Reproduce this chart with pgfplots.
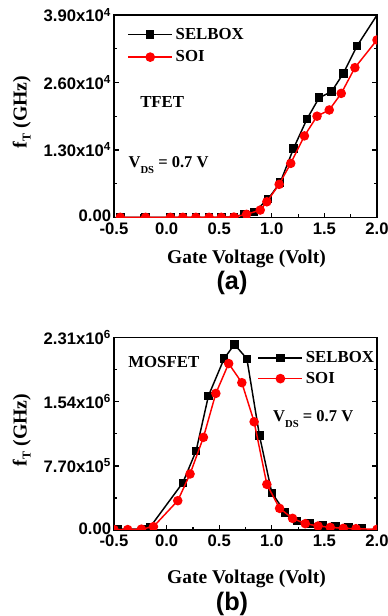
\documentclass[border=0pt]{standalone}
\usepackage{pgfplots}
\pgfplotsset{compat=1.18}
\usepackage{fontspec}
\setmainfont{Liberation Serif}
\newfontfamily\arial{Liberation Sans}

\pgfplotsset{
  mystyle/.style={
    scale only axis, width=197.25pt, anchor=south west,
    xmin=-0.5, xmax=2.0,
    xtick={-0.5,0,0.5,1.0,1.5,2.0},
    xticklabels={-0.5,0.0,0.5,1.0,1.5,2.0},
    minor x tick num=1, minor y tick num=1,
    tick align=inside, xtick pos=bottom, ytick pos=both, yticklabel pos=left,
    major tick length=3.5pt, minor tick length=2.2pt,
    every tick/.style={black, line width=0.9pt},
    axis line style={line width=1.1pt},
    ticklabel style={font=\arial\bfseries\fontsize{12.5}{13}\selectfont},
    xticklabel style={inner sep=0pt, yshift=-3.8pt},
    yticklabel style={inner sep=0pt, xshift=-2pt},
    scaled y ticks=false, scaled x ticks=false,
    clip marker paths=true,
    legend cell align=left,
    legend image code/.code={\draw[##1, line width=1.2pt, mark indices={2}] plot coordinates {(0pt,0pt) (16.5pt,0pt) (33pt,0pt)};},
  },
  selbox/.style={black, line width=1.1pt, mark=square*, mark size=2.6pt, mark options={solid}},
  soi/.style={red, line width=1.1pt, mark=*, mark size=3pt, mark options={solid}},
}

\begin{document}
\begin{tikzpicture}
\path[use as bounding box] (0pt,0pt) rectangle (291pt,462pt);

% ---------- (a) TFET ----------
\begin{axis}[mystyle, at={(85.5pt,299pt)}, height=151.7pt,
  ymin=0, ymax=39000,
  ytick={0,13000,26000,39000},
  yticklabels={\raisebox{2pt}{0.00},{1.30x10\textsuperscript{4}},{2.60x10\textsuperscript{4}},{3.90x10\textsuperscript{4}}},
  legend style={at={(0.05,0.95)}, anchor=north west, draw=none, fill=none, inner sep=0pt,
    row sep=3pt, font=\bfseries\fontsize{12.6}{14}\selectfont},
]
\addplot[selbox, mark indices={1,2,3,4,5,6,7,8,9,10,11,12,13,14,15,16,17,18}] coordinates {
(-0.44,0) (-0.2,0) (0.036,0) (0.154,0) (0.278,0) (0.404,0) (0.52,0) (0.64,100)
(0.74,600) (0.83,1000) (0.963,3500) (1.08,6700) (1.207,13300) (1.334,18950)
(1.45,23070) (1.568,24230) (1.68,27760) (1.81,33030) (2.06,40880)};
\addlegendentry{SELBOX}
\addplot[soi] coordinates {
(-0.44,0) (-0.2,0) (0.036,0) (0.154,0) (0.278,0) (0.404,0) (0.52,0) (0.64,50)
(0.76,580) (0.89,1400) (0.953,3000) (1.07,6360) (1.18,10400) (1.31,15700)
(1.43,19500) (1.546,20700) (1.66,23900) (1.79,28860) (2.0,34200)};
\addlegendentry{SOI}
\node[anchor=base west, inner sep=0pt, font=\bfseries\fontsize{12.6}{14}\selectfont] at (axis cs:-0.253,21130) {TFET};
\node[anchor=base west, inner sep=0pt, font=\bfseries\fontsize{12.4}{14}\selectfont] at (axis cs:-0.364,9560) {V\raisebox{-4pt}{\fontsize{8}{8}\selectfont DS} = 0.7 V};
\end{axis}

% ---------- (b) MOSFET ----------
\begin{axis}[mystyle, at={(85.5pt,64.5pt)}, height=144.2pt,
  ymin=0, ymax=2310000,
  ytick={0,770000,1540000,2310000},
  yticklabels={\raisebox{2pt}{0.00},{7.70x10\textsuperscript{5}},{1.54x10\textsuperscript{6}},{2.31x10\textsuperscript{6}}},
  legend style={at={(0.545,0.943)}, anchor=north west, draw=none, fill=none, inner sep=0pt,
    row sep=1.5pt, font=\bfseries\fontsize{12.6}{14}\selectfont},
]
\addplot[selbox] coordinates {
(-0.46,10000) (-0.22,12000) (-0.16,30000) (0.154,568000) (0.28,949000) (0.398,1613000)
(0.547,2060000) (0.645,2230000) (0.763,2058000) (0.883,1133000) (1.0,448000)
(1.127,212000) (1.24,108000) (1.365,80000) (1.486,56000) (1.607,40000) (1.73,32000)
(1.857,20000)};
\addlegendentry{SELBOX}
\addplot[soi] coordinates {
(-0.5,5000) (-0.37,5000) (-0.24,10000) (-0.125,40000) (0.106,352000) (0.223,673000)
(0.35,1113000) (0.468,1641000) (0.59,2000000) (0.715,1770000) (0.832,1300000)
(0.953,548000) (1.074,260000) (1.197,140000) (1.318,76000) (1.44,48000)
(1.556,32000) (1.68,20000) (1.8,16000) (2.0,8000)};
\addlegendentry{SOI}
\node[anchor=base west, inner sep=0pt, font=\bfseries\fontsize{12.6}{14}\selectfont] at (axis cs:-0.367,1950000) {MOSFET};
\node[anchor=base west, inner sep=0pt, font=\bfseries\fontsize{12.4}{14}\selectfont] at (axis cs:1.011,1300000) {V\raisebox{-4pt}{\fontsize{8}{8}\selectfont DS} = 0.7 V};
\end{axis}

% ---------- labels ----------
\node[anchor=base, inner sep=0pt, font=\bfseries\fontsize{14.6}{16}\selectfont] at (184.9pt,264pt) {Gate Voltage (Volt)};
\node[anchor=base, inner sep=0pt, font=\bfseries\fontsize{14.6}{16}\selectfont] at (184.9pt,24pt) {Gate Voltage (Volt)};
\node[anchor=base, inner sep=0pt, font=\arial\bfseries\fontsize{19}{20}\selectfont] at (174pt,244.5pt) {(a)};
\node[anchor=base, inner sep=0pt, font=\arial\bfseries\fontsize{19}{20}\selectfont] at (174pt,4.5pt) {(b)};
\node[anchor=base, rotate=90, inner sep=0pt, font=\bfseries\fontsize{14.8}{16}\selectfont] at (20pt,378pt) {f\raisebox{-3pt}{\fontsize{9}{9}\selectfont T} (GHz)};
\node[anchor=base, rotate=90, inner sep=0pt, font=\bfseries\fontsize{14.8}{16}\selectfont] at (20pt,139.5pt) {f\raisebox{-3pt}{\fontsize{9}{9}\selectfont T} (GHz)};
\end{tikzpicture}
\end{document}
